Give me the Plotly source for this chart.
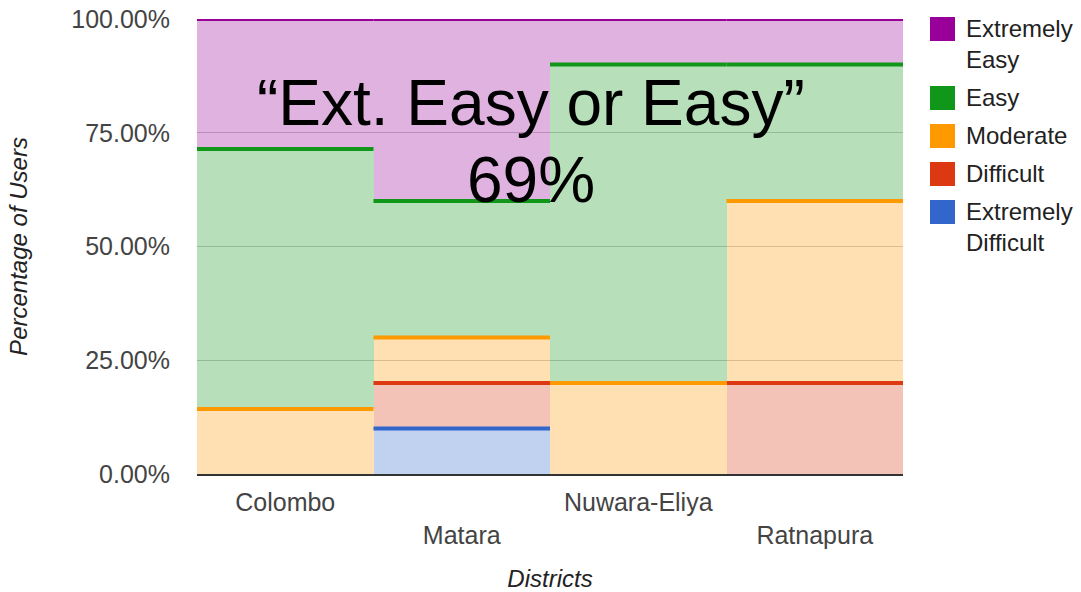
import numpy as np
import plotly.graph_objects as go

# Share of users per district rating the task difficulty (percent)
districts = ["Colombo", "Matara", "Nuwara-Eliya", "Ratnapura"]
ext_difficult = [0, 10, 0, 0]
difficult = [0, 10, 0, 20]
moderate = [14.29, 10, 20, 40]
easy = [57.14, 30, 70, 30]
ext_easy = [28.57, 40, 10, 10]

y_ticks = [0, 25, 50, 75, 100]
# Alternate label rows so the long names do not collide
tick_labels = ["Colombo", "<br>Matara", "Nuwara-Eliya", "<br>Ratnapura"]

series = [
    ("Extremely<br>Difficult", ext_difficult, (51, 102, 204)),
    ("Difficult", difficult, (220, 57, 18)),
    ("Moderate", moderate, (255, 153, 0)),
    ("Easy", easy, (16, 150, 24)),
    ("Extremely<br>Easy", ext_easy, (153, 0, 153)),
]

FONT = "Liberation Sans, Arial, sans-serif"
W, H = 1081, 592
L, R, T, B = 197, 178, 19, 118

fig = go.Figure()
pos = np.arange(len(districts))

# Stacked steps: one full-width band per district with a translucent fill
for name, vals, rgb in series:
    fig.add_trace(go.Bar(
        x=pos, y=vals, width=1.0, name=name.replace("<br>", " "),
        marker=dict(color="rgba(%d,%d,%d,0.3)" % rgb, line=dict(width=0)),
        showlegend=False, hoverinfo="skip",
    ))

# Solid line along the top of every non-empty step
cum = np.zeros(len(districts))
for name, vals, rgb in series:
    vals = np.asarray(vals, dtype=float)
    cum = cum + vals
    xs, ys = [], []
    for i, v in enumerate(vals):
        if v > 0:
            xs += [pos[i] - 0.5, pos[i] + 0.5, None]
            ys += [cum[i], cum[i], None]
    fig.add_trace(go.Scatter(
        x=xs, y=ys, mode="lines", showlegend=False, hoverinfo="skip",
        line=dict(color="rgb(%d,%d,%d)" % rgb, width=4),
    ))

pw, ph = W - L - R, H - T - B


def px_x(x):
    return (x - L) / pw


def px_y(y):
    return (H - B - y) / ph


# Legend drawn as swatches + labels (top series first)
shapes, annotations = [], []
legend_rows = [29, 98, 136, 174, 212]
for (name, vals, rgb), ty in zip(series[::-1], legend_rows):
    shapes.append(dict(
        type="rect", xref="paper", yref="paper",
        x0=px_x(930), x1=px_x(955), y0=px_y(ty + 12), y1=px_y(ty - 12),
        fillcolor="rgb(%d,%d,%d)" % rgb, line=dict(width=0),
    ))
    annotations.append(dict(
        xref="paper", yref="paper", x=px_x(964), y=px_y(ty - 16),
        xanchor="left", yanchor="top", align="left", showarrow=False,
        text=name, font=dict(family=FONT, size=24, color="#222222"),
    ))

# Headline: share answering "Extremely Easy" or "Easy"
for txt, cy in [("\u201cExt. Easy or Easy\u201d", 103), ("69%", 180)]:
    annotations.append(dict(
        xref="paper", yref="paper", x=px_x(531), y=px_y(cy),
        xanchor="center", yanchor="middle", showarrow=False,
        text=txt, font=dict(family=FONT, size=64, color="#000000"),
    ))

fig.update_layout(
    width=W, height=H,
    margin=dict(l=L, r=R, t=T, b=B, pad=0),
    barmode="stack", bargap=0,
    plot_bgcolor="white", paper_bgcolor="white",
    font=dict(family=FONT, size=25, color="#444444"),
    shapes=shapes, annotations=annotations,
    xaxis=dict(
        range=[-0.5, 3.5], tickvals=list(pos), ticktext=tick_labels,
        showgrid=False, zeroline=False, showline=True,
        linecolor="#333333", linewidth=2, ticks="", automargin=False,
        tickfont=dict(family=FONT, size=25, color="#444444"),
        ticklabelstandoff=5,
        title=dict(text="<i>Districts</i>", standoff=26,
                   font=dict(family=FONT, size=24, color="#222222")),
    ),
    yaxis=dict(
        range=[0, 100], tickvals=y_ticks,
        ticktext=["%.2f%%" % v for v in y_ticks],
        showgrid=True, gridcolor="#cccccc", gridwidth=1,
        zeroline=False, showline=False, ticks="", automargin=False,
        tickfont=dict(family=FONT, size=25, color="#444444"),
        ticklabelstandoff=26,
        title=dict(text="<i>Percentage of Users</i>", standoff=36,
                   font=dict(family=FONT, size=24, color="#222222")),
    ),
)

fig.write_html("out.html")
